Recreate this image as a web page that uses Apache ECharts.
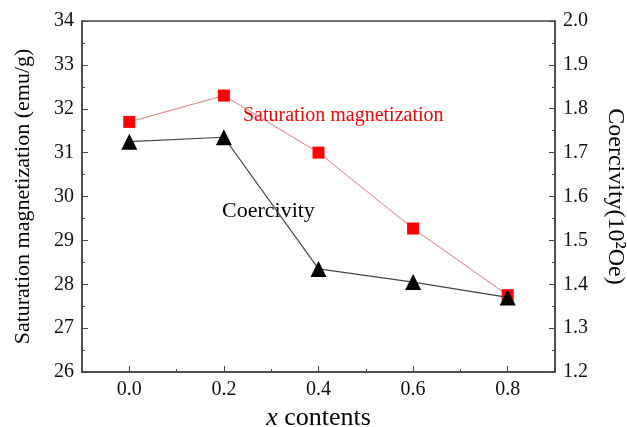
<!DOCTYPE html>
<html>
<head>
<meta charset="utf-8">
<script src="https://cdn.jsdelivr.net/npm/echarts@6/dist/echarts.min.js"></script>
<style>
html, body { margin: 0; padding: 0; background: #fff; }
#main { width: 627px; height: 427px; }
</style>
</head>
<body>
<div id="main"></div>
<script>
var xContents = [0.0, 0.2, 0.4, 0.6, 0.8];
var saturation = [31.7, 32.3, 31.0, 29.27, 27.75];
var coercivity = [1.725, 1.735, 1.435, 1.405, 1.37];
var xMajorTicks = [0.0, 0.2, 0.4, 0.6, 0.8];
var xMinorTicks = [0.1, 0.3, 0.5, 0.7];

var font = 'Liberation Serif';
var dom = document.getElementById('main');
var myChart = echarts.init(dom);

function pairs(xs, ys) {
    return xs.map(function (x, i) { return [x, ys[i]]; });
}

var option = {
    backgroundColor: '#fff',
    textStyle: { fontFamily: font },
    grid: { left: 82, right: 72, top: 21, bottom: 55, show: true, borderColor: '#444', borderWidth: 1.5,
        containLabel: false, outerBoundsMode: 'none' },
    xAxis: [{
        type: 'value', min: -0.1, max: 0.9,
        name: '{i|x} contents', nameLocation: 'middle', nameGap: 31,
        nameTextStyle: { fontFamily: font, fontSize: 26, color: '#000',
            rich: { i: { fontFamily: font, fontSize: 26, fontStyle: 'italic', color: '#000' } } },
        axisLine: { onZero: false, lineStyle: { color: '#444', width: 1.5 } },
        axisTick: { inside: true, length: 6, customValues: xMajorTicks, lineStyle: { color: '#444' } },
        axisLabel: { customValues: xMajorTicks, margin: 8, fontFamily: font, fontSize: 20, color: '#111',
            formatter: function (v) { return v.toFixed(1); } },
        splitLine: { show: false }
    }, {
        type: 'value', min: -0.1, max: 0.9, position: 'bottom',
        axisLine: { show: false, onZero: false },
        axisTick: { inside: true, length: 3, customValues: xMinorTicks, lineStyle: { color: '#444' } },
        axisLabel: { show: false },
        splitLine: { show: false }
    }],
    yAxis: [{
        type: 'value', min: 26, max: 34, interval: 1, position: 'left',
        name: 'Saturation magnetization (emu/g)', nameLocation: 'middle', nameGap: 48,
        nameTextStyle: { fontFamily: font, fontSize: 22, color: '#000' },
        axisLine: { show: true, onZero: false, lineStyle: { color: '#444', width: 1.5 } },
        axisTick: { inside: true, length: 6, lineStyle: { color: '#444' } },
        minorTick: { show: true, splitNumber: 2, length: 3, lineStyle: { color: '#444' } },
        axisLabel: { margin: 8, fontFamily: font, fontSize: 20, color: '#111' },
        splitLine: { show: false }
    }, {
        type: 'value', min: 1.2, max: 2.0, interval: 0.1, position: 'right',
        name: 'Coercivity(10²Oe)', nameLocation: 'middle', nameGap: 48, nameRotate: -90,
        nameTextStyle: { fontFamily: font, fontSize: 24, color: '#000' },
        axisLine: { show: true, onZero: false, lineStyle: { color: '#444', width: 1.5 } },
        axisTick: { inside: true, length: 6, lineStyle: { color: '#444' } },
        minorTick: { show: true, splitNumber: 2, length: 3, lineStyle: { color: '#444' } },
        axisLabel: { margin: 8, fontFamily: font, fontSize: 20, color: '#111',
            formatter: function (v) { return v.toFixed(1); } },
        splitLine: { show: false }
    }],
    series: [{
        name: 'Coercivity', type: 'line', yAxisIndex: 1,
        data: pairs(xContents, coercivity),
        symbol: 'triangle', symbolSize: 16,
        itemStyle: { color: '#000' },
        lineStyle: { color: '#444', width: 1.2 },
        z: 3
    }, {
        name: 'Saturation magnetization', type: 'line', yAxisIndex: 0,
        data: pairs(xContents, saturation),
        symbol: 'rect', symbolSize: 12,
        itemStyle: { color: '#f00' },
        lineStyle: { color: '#f07878', width: 1 },
        z: 2
    }],
    graphic: [{
        type: 'text', left: 243, top: 106,
        style: { text: 'Saturation magnetization', fill: '#f00', font: '20px "Liberation Serif"' }
    }, {
        type: 'text', left: 222, top: 200,
        style: { text: 'Coercivity', fill: '#000', font: '22px "Liberation Serif"' }
    }]
};

if (option && typeof option === 'object') {
    myChart.setOption(option, true);
}
</script>
</body>
</html>
